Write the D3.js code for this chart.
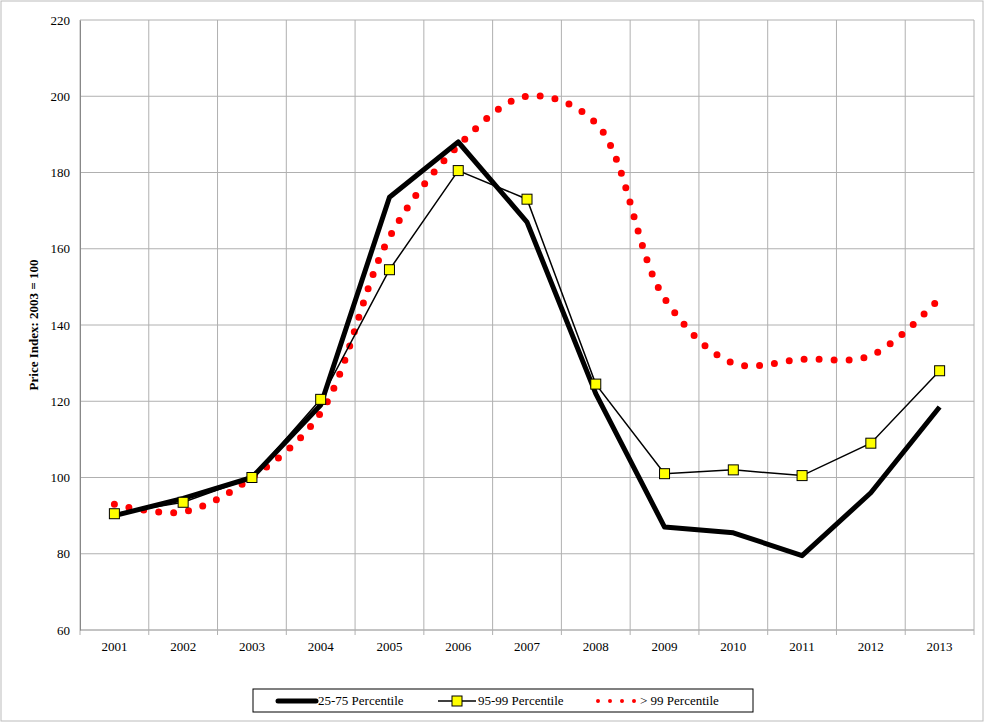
<!DOCTYPE html>
<html>
<head>
<meta charset="UTF-8" />
<script src="https://d3js.org/d3.v7.min.js"></script>
<style>
  body { margin: 0; background: #fff; }
</style>
</head>
<body>
<svg width="994" height="723" font-family="'Liberation Serif', 'DejaVu Serif', serif"></svg>
<script>
  const years = ["2001","2002","2003","2004","2005","2006","2007","2008","2009","2010","2011","2012","2013"];
  const p2575 = [90, 94.5, 100, 119, 173.5, 188, 167, 122, 87, 85.5, 79.5, 96, 118.5];
  const p9599 = [90.5, 93.5, 100, 120.5, 154.5, 180.5, 173, 124.5, 101, 102, 100.5, 109, 128];
  const p99 = [93, 91, 100, 117, 163, 187, 200, 193, 147, 130, 131, 132, 147];
  const yTicks = [60, 80, 100, 120, 140, 160, 180, 200, 220];

  const svg = d3.select("svg");
  const mLeft = 80, mRight = 974, mTop = 20, mBottom = 630;

  svg.append("rect").attr("x", 1).attr("y", 1).attr("width", 982).attr("height", 720)
    .attr("fill", "none").attr("stroke", "#bbb");

  const x = d3.scaleBand().domain(years).range([mLeft, mRight]);
  const y = d3.scaleLinear().domain([60, 220]).range([mBottom, mTop]);
  const cx = d => x(d) + x.bandwidth() / 2;

  // grid
  const g = svg.append("g");
  yTicks.forEach(t => {
    g.append("line").attr("x1", mLeft).attr("x2", mRight).attr("y1", y(t)).attr("y2", y(t))
      .attr("stroke", t === 60 ? "#888" : "#b0b0b0");
  });
  years.forEach(yr => {
    g.append("line").attr("x1", x(yr)).attr("x2", x(yr)).attr("y1", mTop).attr("y2", mBottom + 5)
      .attr("stroke", "#b0b0b0");
  });
  g.append("line").attr("x1", mRight).attr("x2", mRight).attr("y1", mTop).attr("y2", mBottom + 5).attr("stroke", "#b0b0b0");

  const yAxis = svg.append("g").attr("transform", `translate(${mLeft},0)`)
    .call(d3.axisLeft(y).tickValues(yTicks).tickSize(0).tickPadding(10));
  yAxis.attr("font-family", null);
  yAxis.select(".domain").attr("stroke", "#888");
  yAxis.selectAll("text").attr("font-size", 13).attr("fill", "#000");

  const xAxis = svg.append("g").attr("transform", `translate(0,${mBottom})`)
    .call(d3.axisBottom(x).tickSize(0).tickPadding(12));
  xAxis.attr("font-family", null);
  xAxis.select(".domain").remove();
  xAxis.selectAll("text").attr("font-size", 13).attr("fill", "#000");

  svg.append("text").attr("transform", `translate(38,${(mTop + mBottom) / 2}) rotate(-90)`)
    .attr("text-anchor", "middle").attr("font-size", 13).attr("font-weight", "bold")
    .text("Price Index:  2003 = 100");

  const line = d3.line().x((d, i) => cx(years[i])).y(d => y(d));

  svg.append("path").attr("d", line.curve(d3.curveCatmullRom.alpha(0.5))(p99))
    .attr("fill", "none").attr("stroke", "#ff0000").attr("stroke-width", 7)
    .attr("stroke-linecap", "round").attr("stroke-dasharray", "0 15");

  svg.append("path").attr("d", line.curve(d3.curveLinear)(p2575))
    .attr("fill", "none").attr("stroke", "#000").attr("stroke-width", 5).attr("stroke-linejoin", "round");

  svg.append("path").attr("d", line.curve(d3.curveLinear)(p9599))
    .attr("fill", "none").attr("stroke", "#000").attr("stroke-width", 1.5);

  svg.selectAll("rect.m").data(p9599).join("rect").attr("class", "m")
    .attr("x", (d, i) => cx(years[i]) - 5).attr("y", d => y(d) - 5)
    .attr("width", 10).attr("height", 10).attr("fill", "#ffff00").attr("stroke", "#000");

  // legend
  const lg = svg.append("g");
  lg.append("rect").attr("x", 253).attr("y", 689).attr("width", 500).attr("height", 23)
    .attr("fill", "#fff").attr("stroke", "#000");
  lg.append("line").attr("x1", 278).attr("x2", 316).attr("y1", 701).attr("y2", 701)
    .attr("stroke", "#000").attr("stroke-width", 5).attr("stroke-linecap", "round");
  lg.append("text").attr("x", 318).attr("y", 705).attr("font-size", 13).text("25-75 Percentile");
  lg.append("line").attr("x1", 438).attr("x2", 476).attr("y1", 701).attr("y2", 701)
    .attr("stroke", "#000").attr("stroke-width", 1.5);
  lg.append("rect").attr("x", 452).attr("y", 696).attr("width", 10).attr("height", 10)
    .attr("fill", "#ffff00").attr("stroke", "#000");
  lg.append("text").attr("x", 478).attr("y", 705).attr("font-size", 13).text("95-99 Percentile");
  lg.append("line").attr("x1", 598).attr("x2", 636).attr("y1", 701).attr("y2", 701)
    .attr("stroke", "#ff0000").attr("stroke-width", 4).attr("stroke-linecap", "round")
    .attr("stroke-dasharray", "0 12");
  lg.append("text").attr("x", 640).attr("y", 705).attr("font-size", 13).text("> 99 Percentile");
</script>
</body>
</html>
